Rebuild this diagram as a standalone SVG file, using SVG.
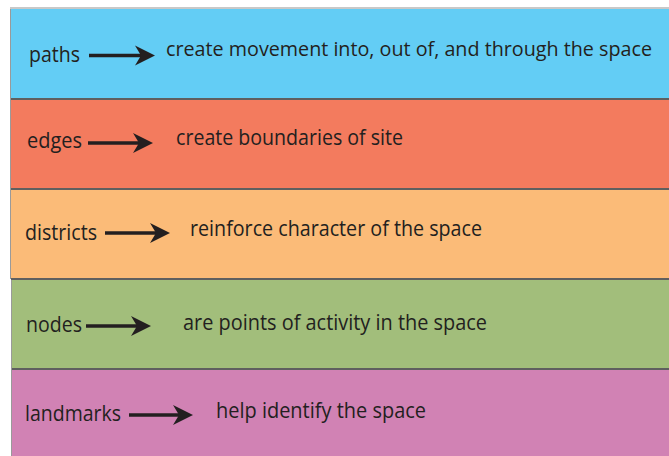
<svg xmlns="http://www.w3.org/2000/svg" width="669" height="456" viewBox="0 0 669 456">
<defs>
<style>
.band{stroke:none}
.sep{stroke:#5f5f5f;stroke-width:2}
.edge{stroke:#9a9a9a;stroke-width:1}
text{font-family:"Open Sans","Noto Sans","Liberation Sans",sans-serif;font-size:21px;fill:#231f20}
.long{font-size:20px}
.arr{stroke:#231f20;stroke-width:3.5;fill:none}
.head{fill:#231f20;stroke:none}
</style>
<path id="ah" d="M0,0 L-20,-10 L-14,0 L-20,10 Z"/>
</defs>
<rect x="0" y="0" width="669" height="456" fill="#ffffff"/>
<line x1="10" y1="8" x2="669" y2="8" stroke="#c8c8c8" stroke-width="2"/>
<g id="band-paths">
<rect class="band" x="11" y="9" width="658" height="90" fill="#63cdf5"/>
<line class="edge" x1="10.5" y1="9" x2="10.5" y2="99"/>
<text x="29" y="62" textLength="51" lengthAdjust="spacingAndGlyphs">paths</text>
<text class="long" x="166" y="56" textLength="486" lengthAdjust="spacingAndGlyphs">create movement into, out of, and through the space</text>
</g>
<g id="band-edges">
<rect class="band" x="11" y="99" width="658" height="90" fill="#f37b5e"/>
<line class="edge" x1="10.5" y1="99" x2="10.5" y2="189"/>
<text x="27" y="148" textLength="55" lengthAdjust="spacingAndGlyphs">edges</text>
<text x="176" y="145" textLength="227" lengthAdjust="spacingAndGlyphs">create boundaries of site</text>
</g>
<g id="band-districts">
<rect class="band" x="11" y="189" width="658" height="90" fill="#fbbb78"/>
<line class="edge" x1="10.5" y1="189" x2="10.5" y2="279"/>
<text x="25" y="240" textLength="72" lengthAdjust="spacingAndGlyphs">districts</text>
<text x="190" y="235.5" textLength="292" lengthAdjust="spacingAndGlyphs">reinforce character of the space</text>
</g>
<g id="band-nodes">
<rect class="band" x="12" y="279" width="657" height="90" fill="#a2be7b"/>
<line class="edge" x1="11.5" y1="279" x2="11.5" y2="369"/>
<text x="26" y="332" textLength="56" lengthAdjust="spacingAndGlyphs">nodes</text>
<text x="183" y="330" textLength="304" lengthAdjust="spacingAndGlyphs">are points of activity in the space</text>
</g>
<g id="band-landmarks">
<rect class="band" x="12" y="369" width="657" height="87" fill="#d182b4"/>
<line class="edge" x1="11.5" y1="369" x2="11.5" y2="456"/>
<text x="25" y="421" textLength="96" lengthAdjust="spacingAndGlyphs">landmarks</text>
<text x="216" y="418" textLength="210" lengthAdjust="spacingAndGlyphs">help identify the space</text>
</g>
<g id="separators">
<line class="sep" x1="11" y1="99" x2="669" y2="99"/>
<line class="sep" x1="11" y1="189" x2="669" y2="189"/>
<line class="sep" x1="11" y1="279" x2="669" y2="279"/>
<line class="sep" x1="12" y1="369" x2="669" y2="369"/>
</g>
<g id="connectors">
<line class="arr" x1="89" y1="55.5" x2="142" y2="55.5"/>
<use href="#ah" class="head" transform="translate(155,55.5)"/>
<line class="arr" x1="88" y1="143" x2="140" y2="143"/>
<use href="#ah" class="head" transform="translate(153,143)"/>
<line class="arr" x1="105" y1="233" x2="157" y2="233"/>
<use href="#ah" class="head" transform="translate(170,233)"/>
<line class="arr" x1="86" y1="326" x2="138" y2="326"/>
<use href="#ah" class="head" transform="translate(151,326)"/>
<line class="arr" x1="129" y1="415" x2="180" y2="415"/>
<use href="#ah" class="head" transform="translate(193,415)"/>
</g>
</svg>
